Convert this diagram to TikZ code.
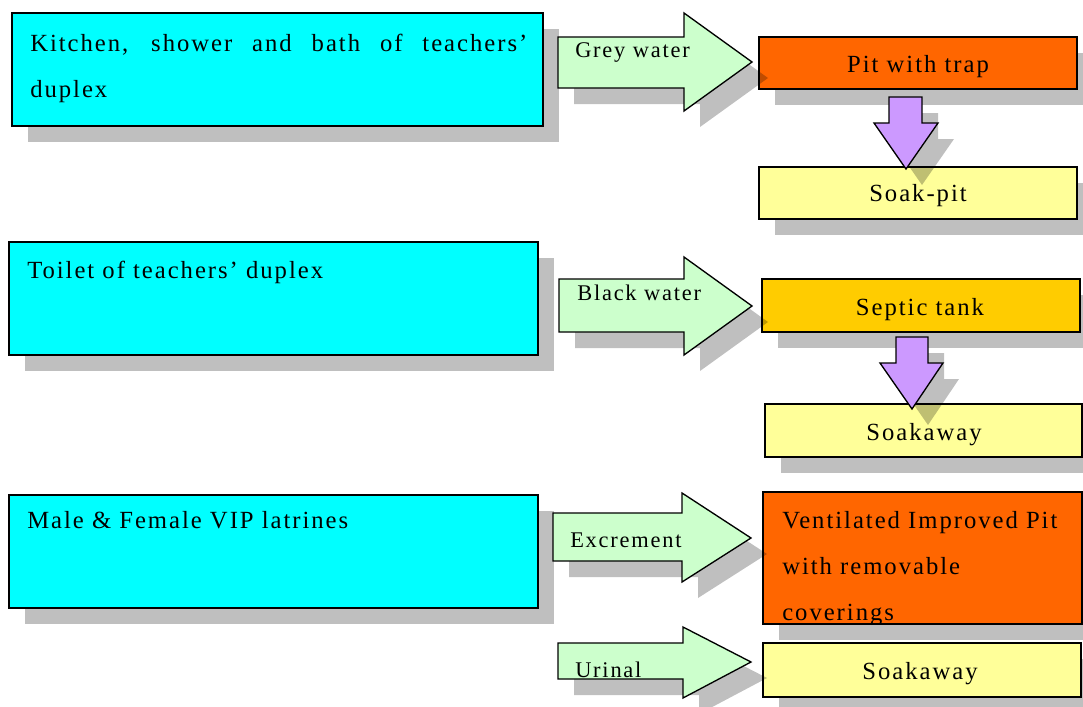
\documentclass[tikz,border=0pt]{standalone}
\usepackage{fontspec}
\setmainfont{Liberation Serif}[LetterSpace=8]
\usetikzlibrary{fit,shadows}
\definecolor{srccyan}{HTML}{00FFFF}
\definecolor{flowgreen}{HTML}{CCFFCC}
\definecolor{pitorange}{HTML}{FF6600}
\definecolor{tankyellow}{HTML}{FFCC00}
\definecolor{soakyellow}{HTML}{FFFF99}
\definecolor{droplilac}{HTML}{CC99FF}
\tikzset{
  castshadow/.style={drop shadow={shadow xshift=12pt, shadow yshift=-12pt, fill=black, opacity=0.25}},
  srcbox/.style={draw=black, line width=1pt, fill=srccyan, inner sep=0pt, castshadow},
  sinkbox/.style={draw=black, line width=1pt, fill=#1, inner sep=0pt, castshadow},
  flowarrow/.style={draw=black, line width=1pt, fill=flowgreen, line join=miter, castshadow},
  droparrow/.style={draw=black, line width=1pt, fill=droplilac, line join=miter, castshadow},
  txt/.style={font=\fontsize{18.5pt}{34.5pt}\selectfont, inner sep=0pt, align=left},
  lbl/.style={font=\fontsize{16.8pt}{20pt}\selectfont, inner sep=0pt}
}
\begin{document}
\begin{tikzpicture}[x=0.75pt, y=-0.75pt]
\useasboundingbox (0,0) rectangle (1083,707);
% sources
\node[srcbox, fit={(12,13) (543,126)}] (kitchen) {};
\node[srcbox, fit={(9,242) (538,355)}] (toilet) {};
\node[srcbox, fit={(9,495) (538,608)}] (latrine) {};
\node[txt, anchor=base west] (kitchentxt) at (30,97) {\makebox[372.75pt][s]{Kitchen, shower and bath of teachers’}\\duplex};
\node[txt, anchor=base west] (toilettxt) at (27,278) {Toilet of teachers’ duplex};
\node[txt, anchor=base west] (latrinetxt) at (27,528) {Male \& Female VIP latrines};
% disposal boxes
\node[sinkbox=pitorange, fit={(759,37) (1077,89)}] (pit) {};
\node[sinkbox=soakyellow, fit={(759,167) (1077,219)}] (soakpit) {};
\node[sinkbox=tankyellow, fit={(762,279) (1080,332)}] (septic) {};
\node[sinkbox=soakyellow, fit={(765,404) (1082,457)}] (soakaway) {};
\node[sinkbox=pitorange, fit={(763,492) (1082,624)}] (vip) {};
\node[sinkbox=soakyellow, fit={(763,643) (1081,697)}] (urinsoak) {};
\node[txt, anchor=base] (pittxt) at (918,72) {Pit with trap};
\node[txt, anchor=base] (soakpittxt) at (918,201) {Soak-pit};
\node[txt, anchor=base] (septictxt) at (920,315) {Septic tank};
\node[txt, anchor=base] (soakawaytxt) at (924,440) {Soakaway};
\node[txt, anchor=base] (urinsoaktxt) at (920,679) {Soakaway};
\begin{scope}
\clip (vip.north west) rectangle (vip.south east);
\node[txt, anchor=base west] (viptxt) at (782,620) {Ventilated Improved Pit\\with removable\\coverings};
\end{scope}
% flow arrows
\draw[flowarrow] (558,37) -- (684,37) -- (684,13) -- (752,62) -- (684,111) -- (684,88) -- (558,88) -- cycle;
\draw[flowarrow] (559,279) -- (684,279) -- (684,257) -- (752,306) -- (684,355) -- (684,332) -- (559,332) -- cycle;
\draw[flowarrow] (553,513) -- (682,513) -- (682,493) -- (751,538) -- (682,582) -- (682,561) -- (553,561) -- cycle;
\draw[flowarrow] (558,643) -- (683,643) -- (683,627) -- (751,662) -- (683,698) -- (683,679) -- (558,679) -- cycle;
\node[lbl, anchor=base west] (greylbl) at (575,57) {Grey water};
\node[lbl, anchor=base west] (blacklbl) at (577,300) {Black water};
\node[lbl, anchor=base west] (excrlbl) at (570,547) {Excrement};
\node[lbl, anchor=base west] (urinlbl) at (575,677) {Urinal};
% down arrows
\draw[droparrow] (889,97) -- (922,97) -- (922,123) -- (938,123) -- (906,169) -- (874,123) -- (889,123) -- cycle;
\draw[droparrow] (896,337) -- (928,337) -- (928,363) -- (943,363) -- (912,409) -- (880,363) -- (896,363) -- cycle;
\end{tikzpicture}
\end{document}
